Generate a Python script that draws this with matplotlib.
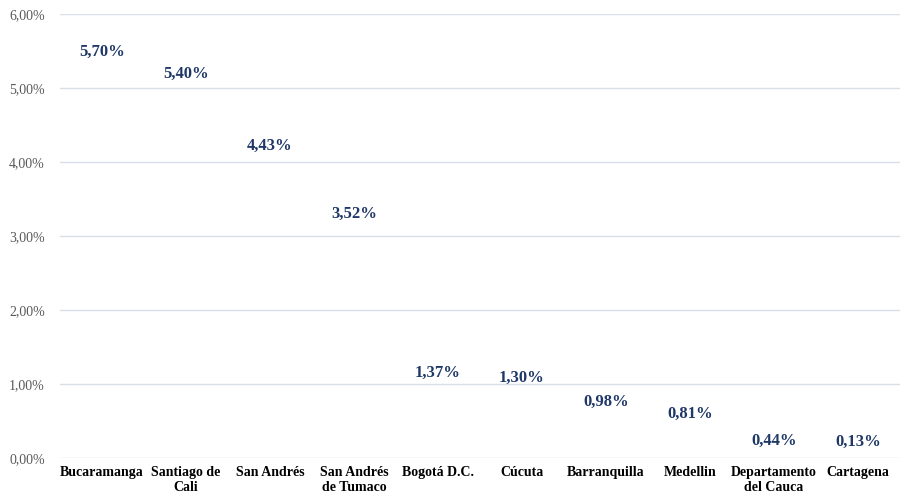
import matplotlib
matplotlib.use("Agg")
import matplotlib.pyplot as plt
from matplotlib.ticker import FuncFormatter

categories = ["Bucaramanga", "Santiago de\nCali", "San Andrés", "San Andrés\nde Tumaco",
              "Bogotá D.C.", "Cúcuta", "Barranquilla", "Medellin",
              "Departamento\ndel Cauca", "Cartagena"]
values = [5.70, 5.40, 4.43, 3.52, 1.37, 1.30, 0.98, 0.81, 0.44, 0.13]
yticks = [0, 1, 2, 3, 4, 5, 6]

plt.rcParams['font.family'] = ['Liberation Serif', 'DejaVu Serif']

fig = plt.figure(figsize=(9.11, 4.97), dpi=100)
ax = fig.add_axes([60/911, 39/497, 840/911, 444/497])

x = list(range(len(categories)))
ax.bar(x, values, width=0.6, color="none", edgecolor="none")

for xi, v in zip(x, values):
    ly = max(v - 0.215, 0.215)
    ax.text(xi, ly, f"{v:.2f}%".replace(".", ","), ha="center", va="center",
            fontsize=12, fontweight="bold", color="#1F3868")

ax.set_xlim(-0.5, len(categories) - 0.5)
ax.set_ylim(0, 6)
ax.set_yticks(yticks)
ax.yaxis.set_major_formatter(FuncFormatter(lambda v, p: f"{v:.2f}%".replace(".", ",")))
ax.set_xticks(x)
ax.set_xticklabels(categories, fontsize=10, fontweight="bold", color="black", linespacing=1.2)
ax.tick_params(axis="y", labelsize=10, colors="#595959", length=0, pad=11)
ax.tick_params(axis="x", length=0, pad=6)
for s in ax.spines.values():
    s.set_visible(False)
ax.grid(axis="y", color="#D9DFEA", linewidth=1)
ax.set_axisbelow(True)

fig.savefig("out.png", dpi=100)
